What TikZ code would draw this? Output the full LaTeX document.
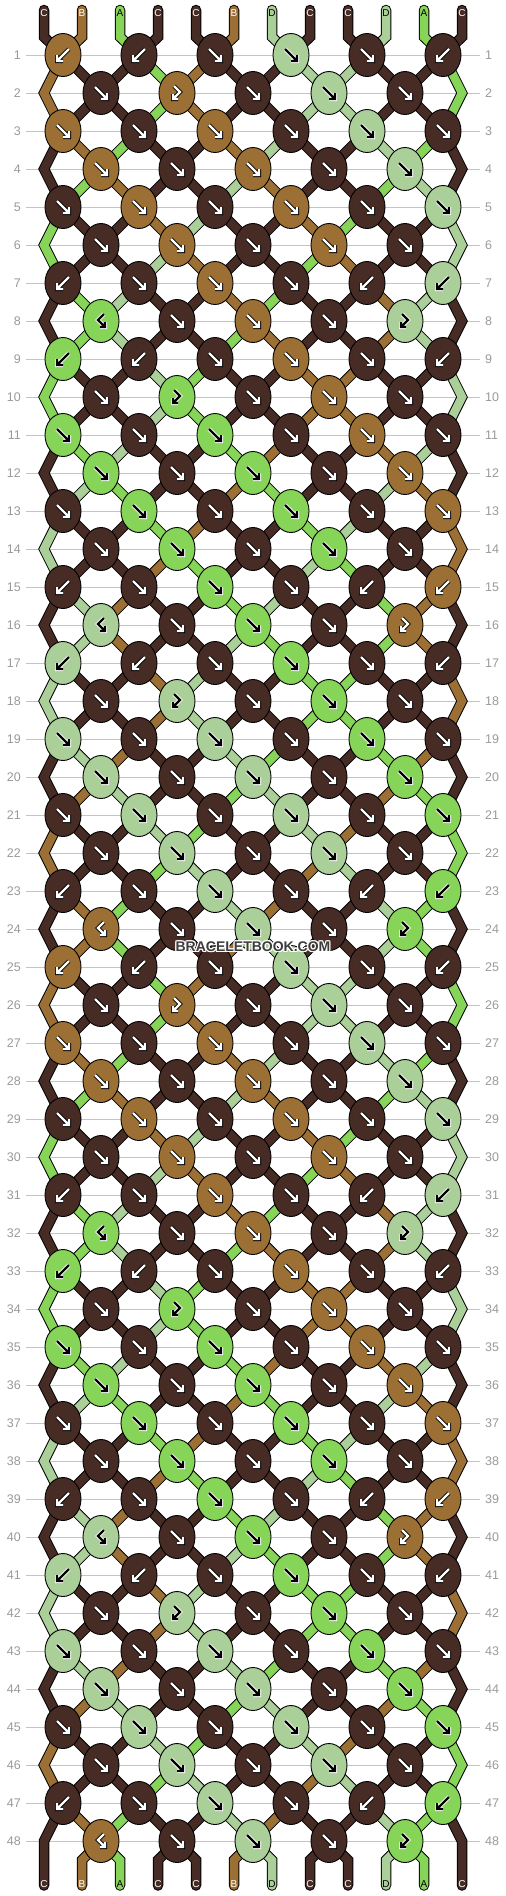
\documentclass[tikz,border=0pt]{standalone}
\usepackage{fontspec}
\setmainfont{Liberation Sans}
\usetikzlibrary{shapes.geometric}
\definecolor{cA}{HTML}{86D458}
\definecolor{cB}{HTML}{9C7035}
\definecolor{cC}{HTML}{472C25}
\definecolor{cD}{HTML}{ABCF98}
\colorlet{aA}{black}\colorlet{aB}{white}\colorlet{aC}{white}\colorlet{aD}{black}
\colorlet{oA}{white}\colorlet{oB}{black}\colorlet{oC}{black}\colorlet{oD}{white}
\definecolor{rowgray}{HTML}{C4C4C4}
\definecolor{numgray}{HTML}{9A9A9A}
\definecolor{wmgray}{HTML}{3D3D3D}

% string colours after each row (period 24)
\expandafter\def\csname S0\endcsname{C,B,A,C,C,B,D,C,C,D,A,C}
\expandafter\def\csname S1\endcsname{B,C,C,A,B,C,C,D,D,C,C,A}
\expandafter\def\csname S2\endcsname{B,C,C,A,B,C,C,D,D,C,C,A}
\expandafter\def\csname S3\endcsname{C,B,A,C,C,B,D,C,C,D,A,C}
\expandafter\def\csname S4\endcsname{C,A,B,C,C,D,B,C,C,A,D,C}
\expandafter\def\csname S5\endcsname{A,C,C,B,D,C,C,B,A,C,C,D}
\expandafter\def\csname S6\endcsname{A,C,C,D,B,C,C,A,B,C,C,D}
\expandafter\def\csname S7\endcsname{C,A,D,C,C,B,A,C,C,B,D,C}
\expandafter\def\csname S8\endcsname{C,A,D,C,C,A,B,C,C,B,D,C}
\expandafter\def\csname S9\endcsname{A,C,C,D,A,C,C,B,B,C,C,D}
\expandafter\def\csname S10\endcsname{A,C,C,D,A,C,C,B,B,C,C,D}
\expandafter\def\csname S11\endcsname{C,A,D,C,C,A,B,C,C,B,D,C}
\expandafter\def\csname S12\endcsname{C,D,A,C,C,B,A,C,C,D,B,C}
\expandafter\def\csname S13\endcsname{D,C,C,A,B,C,C,A,D,C,C,B}
\expandafter\def\csname S14\endcsname{D,C,C,B,A,C,C,D,A,C,C,B}
\expandafter\def\csname S15\endcsname{C,D,B,C,C,A,D,C,C,A,B,C}
\expandafter\def\csname S16\endcsname{C,D,B,C,C,D,A,C,C,A,B,C}
\expandafter\def\csname S17\endcsname{D,C,C,B,D,C,C,A,A,C,C,B}
\expandafter\def\csname S18\endcsname{D,C,C,B,D,C,C,A,A,C,C,B}
\expandafter\def\csname S19\endcsname{C,D,B,C,C,D,A,C,C,A,B,C}
\expandafter\def\csname S20\endcsname{C,B,D,C,C,A,D,C,C,B,A,C}
\expandafter\def\csname S21\endcsname{B,C,C,D,A,C,C,D,B,C,C,A}
\expandafter\def\csname S22\endcsname{B,C,C,A,D,C,C,B,D,C,C,A}
\expandafter\def\csname S23\endcsname{C,B,A,C,C,D,B,C,C,D,A,C}
\expandafter\def\csname S24\endcsname{C,B,A,C,C,B,D,C,C,D,A,C}

% knots: colour + icon (f forward, b backward, x forward-backward, y backward-forward)
\expandafter\def\csname K1\endcsname{Bb,Cb,Cf,Df,Cf,Cb}
\expandafter\def\csname K2\endcsname{Cf,By,Cf,Df,Cf}
\expandafter\def\csname K3\endcsname{Bf,Cf,Bf,Cf,Df,Cf}
\expandafter\def\csname K4\endcsname{Bf,Cf,Bf,Cf,Df}
\expandafter\def\csname K5\endcsname{Cf,Bf,Cf,Bf,Cf,Df}
\expandafter\def\csname K6\endcsname{Cf,Bf,Cf,Bf,Cf}
\expandafter\def\csname K7\endcsname{Cb,Cf,Bf,Cf,Cb,Db}
\expandafter\def\csname K8\endcsname{Ax,Cf,Bf,Cf,Dy}
\expandafter\def\csname K9\endcsname{Ab,Cb,Cf,Bf,Cf,Cb}
\expandafter\def\csname K10\endcsname{Cf,Ay,Cf,Bf,Cf}
\expandafter\def\csname K11\endcsname{Af,Cf,Af,Cf,Bf,Cf}
\expandafter\def\csname K12\endcsname{Af,Cf,Af,Cf,Bf}
\expandafter\def\csname K13\endcsname{Cf,Af,Cf,Af,Cf,Bf}
\expandafter\def\csname K14\endcsname{Cf,Af,Cf,Af,Cf}
\expandafter\def\csname K15\endcsname{Cb,Cf,Af,Cf,Cb,Bb}
\expandafter\def\csname K16\endcsname{Dx,Cf,Af,Cf,By}
\expandafter\def\csname K17\endcsname{Db,Cb,Cf,Af,Cf,Cb}
\expandafter\def\csname K18\endcsname{Cf,Dy,Cf,Af,Cf}
\expandafter\def\csname K19\endcsname{Df,Cf,Df,Cf,Af,Cf}
\expandafter\def\csname K20\endcsname{Df,Cf,Df,Cf,Af}
\expandafter\def\csname K21\endcsname{Cf,Df,Cf,Df,Cf,Af}
\expandafter\def\csname K22\endcsname{Cf,Df,Cf,Df,Cf}
\expandafter\def\csname K23\endcsname{Cb,Cf,Df,Cf,Cb,Ab}
\expandafter\def\csname K24\endcsname{Bx,Cf,Df,Cf,Ay}

\def\parsek#1#2\relax{\def\kc{#1}\def\ki{#2}}

\tikzset{
  knot/.style={ellipse, draw=black, line width=0.9pt, minimum width=36, minimum height=43, inner sep=0pt},
  arrowo/.style={draw=o\kc, line width=4pt},
  arrowi/.style={draw=a\kc, line width=2.2pt},
  rowline/.style={draw=rowgray, line width=1pt},
  rowlab/.style={text=numgray, font=\fontsize{12.5}{12.5}\selectfont, inner sep=0pt},
  strlab/.style={font=\fontsize{10}{10}\selectfont, inner sep=0pt},
  wm/.style={font=\bfseries\fontsize{14}{14}\selectfont, inner sep=0pt},
  strand/.style={line width=10.5pt, draw=black}
}

\newcommand\iconf{\draw[arrowo] (-6,-6)--(6,6) (0,6)--(6,6)--(6,0);\draw[arrowi] (-6,-6)--(6,6) (0,6)--(6,6)--(6,0);}
\newcommand\iconb{\draw[arrowo] (6,-6)--(-6,6) (0,6)--(-6,6)--(-6,0);\draw[arrowi] (6,-6)--(-6,6) (0,6)--(-6,6)--(-6,0);}
\newcommand\icony{\draw[arrowo] (-3,-7)--(3,-1)--(-4,6) (-4,1)--(-4,6)--(1,6);\draw[arrowi] (-3,-7)--(3,-1)--(-4,6) (-4,1)--(-4,6)--(1,6);}
\newcommand\iconx{\draw[arrowo] (3,-7)--(-3,-1)--(4,6) (4,1)--(4,6)--(-1,6);\draw[arrowi] (3,-7)--(-3,-1)--(4,6) (4,1)--(4,6)--(-1,6);}

\newcommand\allstrings{%
  \edef\slist{\csname S0\endcsname}%
  \foreach \c [count=\i from 0] in \slist {%
    \pgfmathtruncatemacro\ja{floor(\i/2)}%
    \draw[strand=\c,line cap=round] (t\i) -- (ta\i) -- (k1-\ja);
    \ifnum\i=0 \draw[strand=\c,line cap=round] (k47-0) -- (ba0) -- (b0);
    \else\ifnum\i=11 \draw[strand=\c,line cap=round] (k47-5) -- (ba11) -- (b11);
    \else\pgfmathtruncatemacro\jb{floor((\i-1)/2)}\draw[strand=\c,line cap=round] (k48-\jb) -- (ba\i) -- (b\i);\fi\fi
  }%
  \foreach \r in {1,...,47}{%
    \pgfmathtruncatemacro\rr{mod(\r-1,24)+1}%
    \pgfmathtruncatemacro\rn{\r+1}%
    \pgfmathtruncatemacro\rp{\r-1}%
    \edef\slist{\csname S\rr\endcsname}%
    \foreach \c [count=\i from 0] in \slist {%
      \pgfmathtruncatemacro\jo{floor(\i/2)}%
      \pgfmathtruncatemacro\je{floor((\i-1)/2)}%
      \ifnum\i=0 \ifodd\r\else\draw[strand=\c] (k\rp-0) -- (vL\r) -- (k\rn-0);\fi
      \else\ifnum\i=11 \ifodd\r\else\draw[strand=\c] (k\rp-5) -- (vR\r) -- (k\rn-5);\fi
      \else
        \ifodd\r\draw[strand=\c] (k\r-\jo) -- (k\rn-\je);
        \else\draw[strand=\c] (k\r-\je) -- (k\rn-\jo);\fi
      \fi\fi
    }%
  }%
}

\begin{document}
\begin{tikzpicture}[x=1pt,y=-1pt]
\fill[white] (0,0) rectangle (506,1896);
\useasboundingbox (0,0) rectangle (506,1896);

% coordinates
\foreach \r in {1,...,48}{%
  \pgfmathsetmacro\yy{55+38*(\r-1)}%
  \ifodd\r
    \foreach \j in {0,...,5}{\coordinate (k\r-\j) at ({63+76*\j},\yy);}
  \else
    \foreach \j in {0,...,4}{\coordinate (k\r-\j) at ({101+76*\j},\yy);}
    \coordinate (vL\r) at (44,\yy);
    \coordinate (vR\r) at (462,\yy);
  \fi
}
\foreach \i in {0,...,11}{%
  \pgfmathsetmacro\xs{44+38*\i}%
  \coordinate (t\i) at (\xs,10);
  \coordinate (ta\i) at (\xs,37);
  \coordinate (b\i) at (\xs,1885.5);
  \ifnum\i=0 \coordinate (ba\i) at (\xs,1841);
  \else\ifnum\i=11 \coordinate (ba\i) at (\xs,1841);
  \else\coordinate (ba\i) at (\xs,1860);\fi\fi
}

% row lines and numbers
\foreach \r in {1,...,48}{%
  \pgfmathsetmacro\yy{55+38*(\r-1)}%
  \draw[rowline] (26,\yy) -- (480,\yy);
  \node[rowlab,anchor=east] (nl\r) at (21,\yy) {\r};
  \node[rowlab,anchor=west] (nr\r) at (485,\yy) {\r};
}

% strings: outline pass, then colour pass
\allstrings
\tikzset{strand/.style={line width=8.5pt, draw=c#1}}
\allstrings

% knots
\foreach \r in {1,...,48}{%
  \pgfmathtruncatemacro\rr{mod(\r-1,24)+1}%
  \edef\klist{\csname K\rr\endcsname}%
  \foreach \k [count=\j from 0] in \klist {%
    \expandafter\parsek\k\relax
    \node[knot, fill=c\kc] (n\r-\j) at (k\r-\j) {};
    \begin{scope}[shift={(k\r-\j)}]\csname icon\ki\endcsname\end{scope}
  }%
}

% string labels
\edef\slist{\csname S0\endcsname}
\foreach \c [count=\i from 0] in \slist {%
  \node[strlab, text=a\c] (lt\i) at ({44+38*\i},12.7) {\c};
  \node[strlab, text=a\c] (lb\i) at ({44+38*\i},1884) {\c};
}

% watermark
\foreach \dx/\dy [count=\n] in {-1/0,1/0,0/-1,0/1,-1/-1,1/1,-1/1,1/-1}{%
  \node[wm, text=white] (wmh\n) at (253+\dx,947+\dy) {BRACELETBOOK.COM};
}
\node[wm, text=wmgray] (wm) at (253,947) {BRACELETBOOK.COM};
\end{tikzpicture}
\end{document}
